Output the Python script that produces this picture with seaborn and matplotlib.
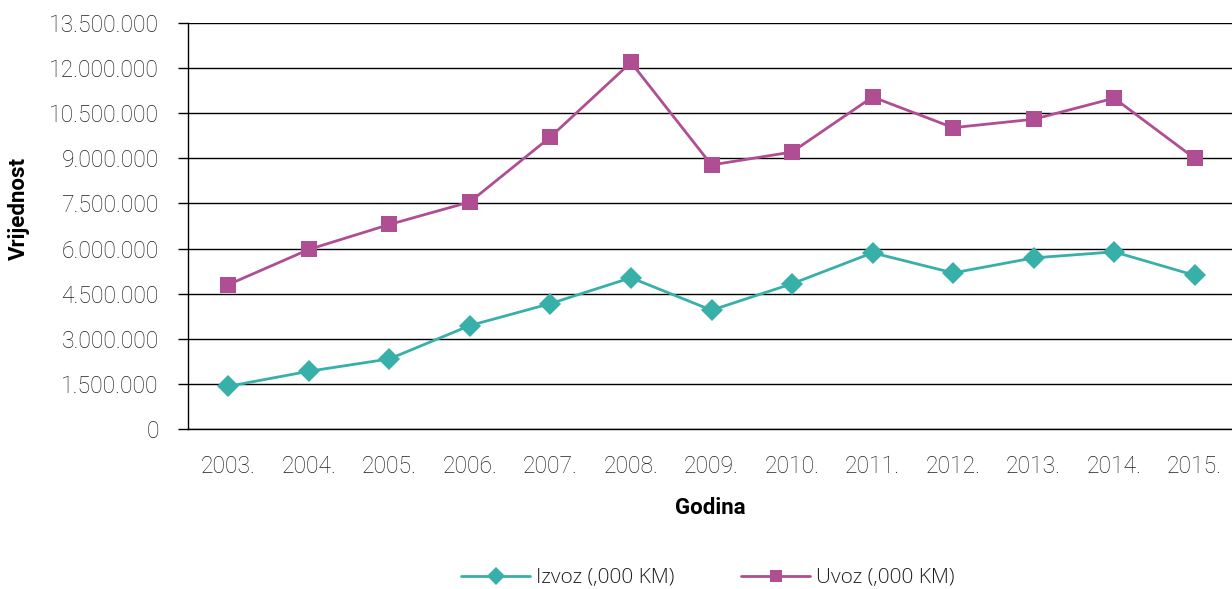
import matplotlib
matplotlib.use("Agg")
import matplotlib.pyplot as plt
import matplotlib.ticker as mticker
import seaborn as sns
import pandas as pd

years = ["2003.", "2004.", "2005.", "2006.", "2007.", "2008.", "2009.",
         "2010.", "2011.", "2012.", "2013.", "2014.", "2015."]
izvoz = [1420000, 1920000, 2330000, 3440000, 4170000, 5030000, 3950000,
         4830000, 5860000, 5190000, 5690000, 5890000, 5110000]
uvoz = [4800000, 5970000, 6800000, 7550000, 9710000, 12190000, 8780000,
        9210000, 11040000, 10020000, 10300000, 11000000, 9000000]
series_names = ["Izvoz (,000 KM)", "Uvoz (,000 KM)"]
y_ticks = [0, 1500000, 3000000, 4500000, 6000000, 7500000, 9000000,
           10500000, 12000000, 13500000]

sns.set_theme(style="white")
plt.rcParams['font.family'] = ['Roboto', 'DejaVu Sans']

df = pd.DataFrame({
    "Godina": years * 2,
    "Vrijednost": izvoz + uvoz,
    "Serija": [series_names[0]] * len(years) + [series_names[1]] * len(years),
})

colors = {series_names[0]: "#36B0A8", series_names[1]: "#B04E93"}
markers = {series_names[0]: "D", series_names[1]: "s"}

fig = plt.figure(figsize=(12.32, 5.89), dpi=100)
ax = fig.add_axes([188 / 1232, 1 - 429 / 589, (1235 - 188) / 1232, (429 - 23) / 589])

sns.lineplot(data=df, x="Godina", y="Vrijednost", hue="Serija", style="Serija",
             palette=colors, markers=markers, dashes=False, linewidth=2,
             markersize=11, markeredgewidth=0, sort=False, ax=ax)

ax.set_xlim(-0.5, 12.5)
ax.set_ylim(0, 13500000)
ax.set_yticks(y_ticks)
ax.yaxis.set_major_formatter(mticker.FuncFormatter(
    lambda v, p: "0" if v == 0 else f"{int(v):,}".replace(",", ".")))
ax.grid(axis="y", color="black", linewidth=1)
ax.set_axisbelow(True)
for side in ["top", "right"]:
    ax.spines[side].set_visible(False)
ax.spines["left"].set_color("black")
ax.spines["bottom"].set_color("black")
ax.spines["left"].set_linewidth(1)
ax.spines["bottom"].set_linewidth(1)
tick_col = "#1e1e1e"
ax.tick_params(axis="y", which="major", left=True, length=7, width=1, color="black",
               labelsize=16.5, labelcolor=tick_col, pad=14)
ax.tick_params(axis="x", bottom=False, labelsize=16.5, labelcolor=tick_col, pad=13)
for lab in ax.get_xticklabels() + ax.get_yticklabels():
    lab.set_fontweight("light")

ax.set_xlabel("Godina", fontsize=16, fontweight="bold", color="black")
ax.set_ylabel("Vrijednost", fontsize=16, fontweight="bold", color="black")
ax.xaxis.set_label_coords((710 - 188) / (1235 - 188), -(497 - 429) / 406)
ax.yaxis.set_label_coords(-(188 - 30) / (1235 - 188), (429 - 208) / 406)

handles, labels = ax.get_legend_handles_labels()
for h in handles:
    h.set_markersize(9)
leg = ax.legend(handles=handles, labels=labels, loc="center",
                bbox_to_anchor=(708 / 1232, 1 - 578 / 589),
                bbox_transform=fig.transFigure, ncol=2, frameon=False,
                prop={"family": ["Open Sans", "DejaVu Sans"], "size": 15, "weight": "light"},
                handlelength=3.3, columnspacing=3.2, handletextpad=0.3,
                labelcolor=tick_col)

fig.savefig("out.png", dpi=100)
